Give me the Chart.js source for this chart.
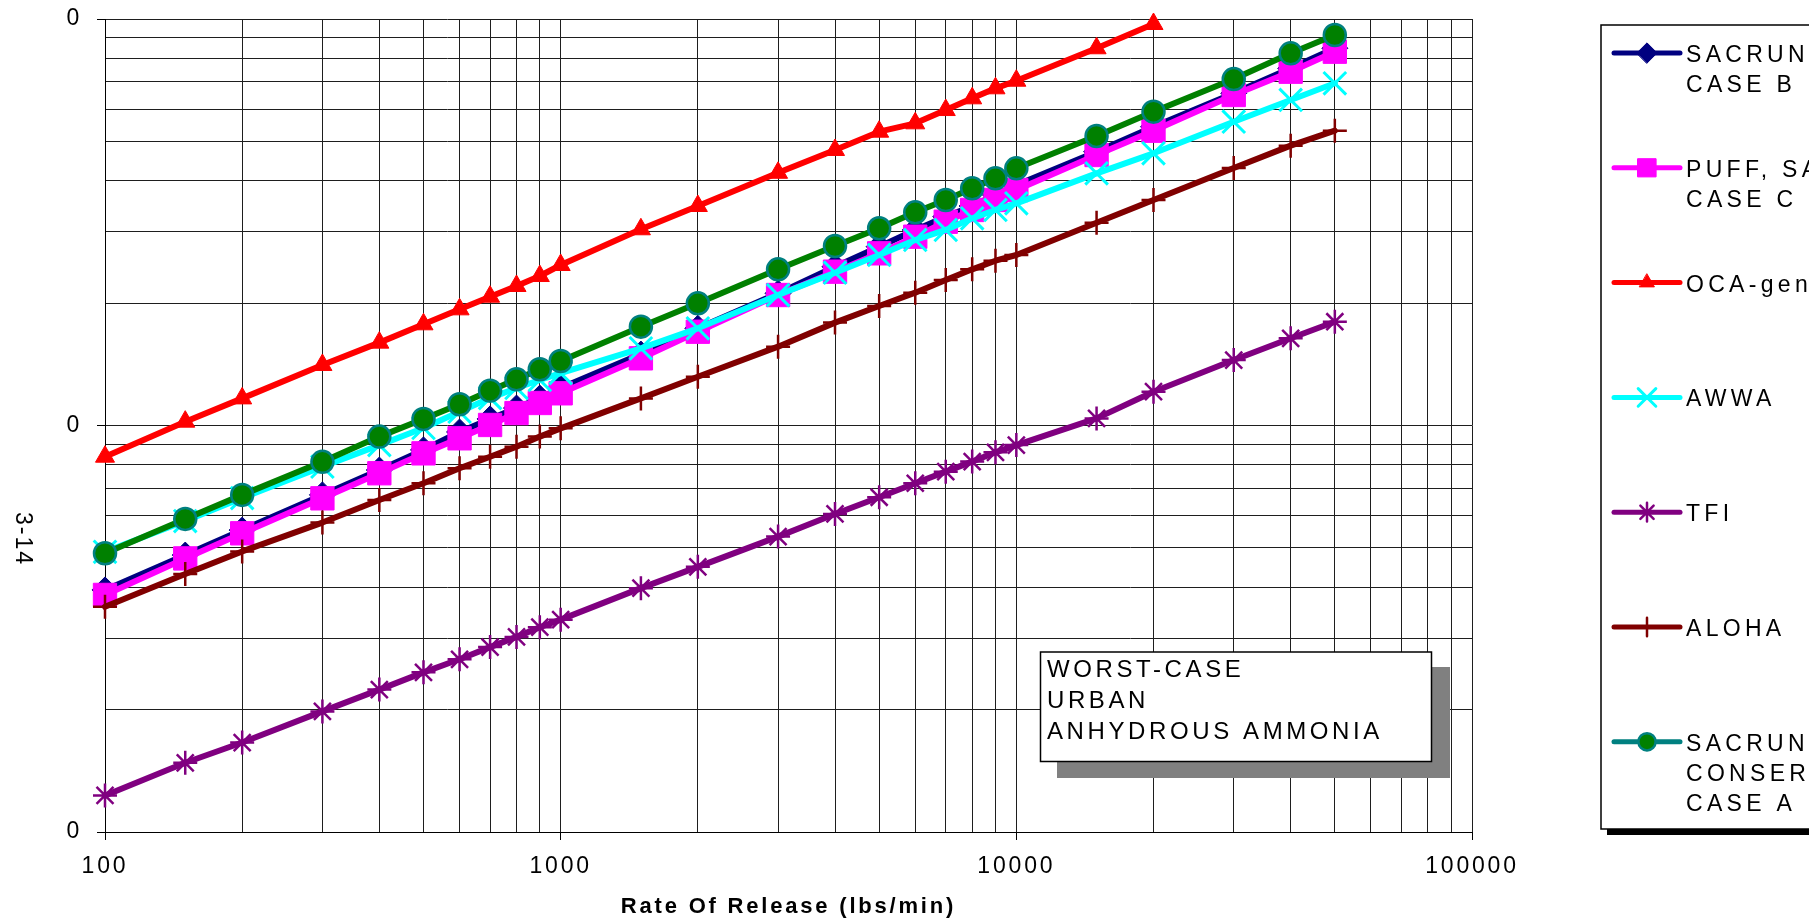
<!DOCTYPE html>
<html>
<head>
<meta charset="utf-8">
<script src="https://cdn.jsdelivr.net/npm/chart.js@4.4.1/dist/chart.umd.min.js"></script>
<style>
  html, body { margin: 0; padding: 0; background: #fff; }
  canvas { display: block; }
</style>
</head>
<body>
<canvas id="chart" width="1809" height="923"></canvas>
<script>
// release rates (lbs/min)
const rates = [100, 150, 200, 300, 400, 500, 600, 700, 800, 900,
  1000, 1500, 2000, 3000, 4000, 5000, 6000, 7000, 8000, 9000,
  10000, 15000, 20000, 30000, 40000, 50000];

// distances, one value per rate
const sacrunchB = [0.00394, 0.0048, 0.00553, 0.00675, 0.00777, 0.00871, 0.00964, 0.01038, 0.01104, 0.01168,
  0.01237, 0.01499, 0.01734, 0.02114, 0.02458, 0.02754, 0.03027, 0.03263, 0.03467, 0.0369,
  0.03904, 0.04717, 0.05433, 0.06566, 0.07562, 0.08472];
const puff = [0.00383, 0.00471, 0.00543, 0.00662, 0.00763, 0.00854, 0.0093, 0.01003, 0.01073, 0.01136,
  0.012, 0.01463, 0.01701, 0.02094, 0.0239, 0.02652, 0.02914, 0.03172, 0.0339, 0.03587,
  0.03795, 0.04628, 0.05311, 0.06502, 0.07419, 0.08309];
const ocaGeneric = [0.00838, 0.01022, 0.01166, 0.01409, 0.01599, 0.01774, 0.01931, 0.02074, 0.02204, 0.02332,
  0.02482, 0.03039, 0.03467, 0.04185, 0.04762, 0.05282, 0.05538, 0.05971, 0.06381, 0.06753,
  0.0705, 0.08472, 0.09721];
const awwa = [0.00489, 0.00582, 0.00663, 0.00792, 0.00895, 0.00986, 0.01081, 0.01168, 0.01237, 0.01294,
  0.01346, 0.01548, 0.01734, 0.02094, 0.02376, 0.02627, 0.0286, 0.03027, 0.03233, 0.0339,
  0.0352, 0.04172, 0.04673, 0.0559, 0.06322, 0.06947];
const tfi = [0.00123, 0.00148, 0.00166, 0.00198, 0.00224, 0.00247, 0.00266, 0.00285, 0.00302, 0.00319,
  0.00333, 0.00398, 0.00449, 0.00533, 0.00606, 0.00666, 0.00721, 0.0077, 0.00815, 0.00859,
  0.00895, 0.01041, 0.01211, 0.01449, 0.01639, 0.018];
const aloha = [0.00358, 0.00431, 0.0049, 0.00577, 0.00656, 0.00721, 0.00785, 0.00838, 0.00887, 0.00939,
  0.00984, 0.01166, 0.01318, 0.01563, 0.01791, 0.01968, 0.02122, 0.02279, 0.02422, 0.02543,
  0.02627, 0.03154, 0.03587, 0.043, 0.0488, 0.05311];
const sacrunchA = [0.00485, 0.00589, 0.00675, 0.00814, 0.00939, 0.01038, 0.01128, 0.01218, 0.01299, 0.01375,
  0.01441, 0.0175, 0.01998, 0.02422, 0.02764, 0.03056, 0.03345, 0.03587, 0.03833, 0.04056,
  0.04292, 0.05155, 0.05916, 0.07117, 0.08234, 0.09134];

const legendLabels = [
  ["SACRUNCH", "CASE B"],
  ["PUFF, SACRUNCH", "CASE C"],
  ["OCA-generic"],
  ["AWWA"],
  ["TFI"],
  ["ALOHA"],
  ["SACRUNCH", "CONSERVATIVE", "CASE A"],
];
const boxLines = ["WORST-CASE", "URBAN", "ANHYDROUS AMMONIA"];
const pageNumber = "3-14";
const xTitle = "Rate Of Release (lbs/min)";

const xMin = 100, xMax = 100000;
const yMin = 0.001, yMax = 0.1;

const FONT = "'Liberation Sans', Arial, sans-serif";
Chart.defaults.font.family = FONT;
Chart.defaults.color = "#000";

const toPoints = (ys) => ys.map((y, i) => ({ x: rates[i], y: y }));

const isPow10 = v => Math.abs(Math.log10(v) - Math.round(Math.log10(v))) < 1e-6;

const logTicks = (min, max) => {
  const out = [];
  for (let e = Math.round(Math.log10(min)); e < Math.round(Math.log10(max)); e++) {
    for (let k = 1; k < 10; k++) out.push(Number((k * Math.pow(10, e)).toPrecision(3)));
  }
  out.push(max);
  return out.map(v => ({ value: v }));
};

const series = [
  { label: "SACRUNCH CASE B", data: sacrunchB, color: "#000080", style: "rectRot", r: 13, bw: 1 },
  { label: "PUFF, SACRUNCH CASE C", data: puff, color: "#ff00ff", style: "rect", r: 16.5, bw: 1 },
  { label: "OCA-generic", data: ocaGeneric, color: "#ff0000", style: "triangle", r: 11, bw: 1 },
  { label: "AWWA", data: awwa, color: "#00ffff", style: "crossRot", r: 16, bw: 3 },
  { label: "TFI", data: tfi, color: "#800080", style: "star", r: 12, bw: 2.5 },
  { label: "ALOHA", data: aloha, color: "#800000", style: "cross", r: 12, bw: 2.5 },
  { label: "SACRUNCH CONSERVATIVE CASE A", data: sacrunchA, color: "#008000", style: "circle", r: 11, bw: 2.5,
    pointBorder: "#008080", legendLine: "#008080" },
];

const datasets = series.map((s, i) => ({
  label: s.label,
  data: toPoints(s.data),
  borderColor: s.color,
  backgroundColor: s.color,
  borderWidth: 6,
  borderJoinStyle: "round",
  borderCapStyle: "round",
  tension: 0,
  pointStyle: s.style,
  pointRadius: s.r,
  pointHoverRadius: s.r,
  pointBorderWidth: s.bw,
  pointBackgroundColor: s.color,
  pointBorderColor: s.pointBorder || s.color,
  clip: false,
  order: series.length - i,
}));

const letterSpacing = {
  id: "letterSpacing",
  beforeDraw(chart) {
    chart.ctx.letterSpacing = "2.8px";
  }
};

const extras = {
  id: "extras",
  afterDraw(chart) {
    const ctx = chart.ctx;

    // note box with shadow
    ctx.save();
    ctx.fillStyle = "#808080";
    ctx.fillRect(1057, 667, 393, 111);
    ctx.fillStyle = "#fff";
    ctx.fillRect(1040.5, 652, 391, 109.5);
    ctx.strokeStyle = "#000";
    ctx.lineWidth = 1.5;
    ctx.strokeRect(1040.5, 652, 391, 109.5);
    ctx.fillStyle = "#000";
    ctx.font = "24px " + FONT;
    ctx.letterSpacing = "3.6px";
    ctx.textAlign = "left";
    ctx.textBaseline = "alphabetic";
    boxLines.forEach((t, i) => ctx.fillText(t, 1047, 677 + i * 30.8));
    ctx.restore();

    // legend box
    ctx.save();
    ctx.fillStyle = "#000";
    ctx.fillRect(1607, 829, 230, 6);
    ctx.strokeStyle = "#000";
    ctx.lineWidth = 1.5;
    ctx.strokeRect(1601, 25, 240, 804);
    ctx.font = "23px " + FONT;
    ctx.letterSpacing = "4.3px";
    ctx.textAlign = "left";
    ctx.textBaseline = "alphabetic";
    series.forEach((s, i) => {
      const ds = chart.data.datasets[i];
      const y = 53 + i * 114.8;
      ctx.save();
      ctx.strokeStyle = s.legendLine || s.color;
      ctx.lineWidth = 5;
      ctx.lineCap = "round";
      ctx.beginPath();
      ctx.moveTo(1614, y);
      ctx.lineTo(1680, y);
      ctx.stroke();
      ctx.fillStyle = ds.pointBackgroundColor;
      ctx.strokeStyle = ds.pointBorderColor;
      ctx.lineWidth = ds.pointBorderWidth;
      Chart.helpers.drawPoint(ctx, {
        pointStyle: ds.pointStyle,
        radius: ds.pointRadius * 0.78,
        rotation: 0,
        borderWidth: ds.pointBorderWidth,
      }, 1647, y);
      ctx.restore();
      ctx.fillStyle = "#000";
      legendLabels[i].forEach((t, j) => ctx.fillText(t, 1686, y + 9 + j * 30));
    });
    ctx.restore();

    // page number, rotated
    ctx.save();
    ctx.translate(22, 539);
    ctx.rotate(Math.PI / 2);
    ctx.font = "23px " + FONT;
    ctx.letterSpacing = "2px";
    ctx.fillStyle = "#000";
    ctx.textAlign = "center";
    ctx.textBaseline = "middle";
    ctx.fillText(pageNumber, 0, 0);
    ctx.restore();
  }
};

const majorTickColor = c => (c.tick && isPow10(c.tick.value)) ? "#000" : "rgba(0,0,0,0)";

new Chart(document.getElementById("chart").getContext("2d"), {
  type: "line",
  data: { datasets: datasets },
  options: {
    responsive: false,
    animation: false,
    events: [],
    layout: { padding: { left: 60, top: 19, right: 337, bottom: 0 } },
    plugins: { legend: { display: false }, tooltip: { enabled: false } },
    scales: {
      x: {
        type: "logarithmic",
        min: xMin,
        max: xMax,
        afterBuildTicks: s => { s.ticks = logTicks(xMin, xMax); },
        afterFit: s => { s.height = 91; s.paddingLeft = 0; s.paddingRight = 0; },
        ticks: {
          autoSkip: false,
          maxRotation: 0,
          padding: 13,
          font: { size: 23 },
          color: "#000",
          callback: v => isPow10(v) ? String(Math.round(v)) : "",
        },
        grid: { color: "#1e1e1e", lineWidth: 1, tickLength: 8, tickColor: majorTickColor },
        border: { display: true, color: "#000", width: 1 },
        title: {
          display: true,
          text: xTitle,
          font: { size: 22, weight: "bold" },
          color: "#000",
          padding: { top: 0, bottom: 3 },
        },
      },
      y: {
        type: "logarithmic",
        min: yMin,
        max: yMax,
        afterBuildTicks: s => { s.ticks = logTicks(yMin, yMax); },
        afterFit: s => { s.width = 45; s.paddingTop = 0; s.paddingBottom = 0; },
        ticks: {
          autoSkip: false,
          padding: 15,
          font: { size: 23 },
          color: "#000",
          callback: v => isPow10(v) ? v.toFixed(0) : "",
        },
        grid: { color: "#1e1e1e", lineWidth: 1, tickLength: 8, tickColor: majorTickColor },
        border: { display: true, color: "#000", width: 1 },
      },
    },
  },
  plugins: [letterSpacing, extras],
});
</script>
</body>
</html>
